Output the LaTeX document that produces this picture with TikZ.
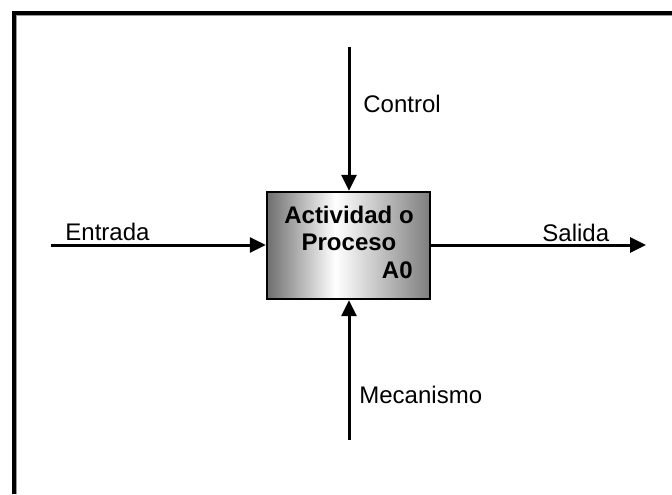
\documentclass[tikz,border=0pt]{standalone}
\usepackage{fontspec}
\setmainfont{Liberation Sans}
\usetikzlibrary{arrows.meta}
\definecolor{shadeL}{HTML}{6E6E6E}
\definecolor{shadeR}{HTML}{7E7E7E}
\definecolor{rimgray}{HTML}{9A9A9A}
\pgfdeclarehorizontalshading{boxshade}{100bp}{color(0bp)=(shadeL); color(25bp)=(shadeL); color(46bp)=(white); color(75bp)=(shadeR); color(100bp)=(shadeR)}
\tikzset{
  flow/.style={line width=1.5pt, -{Triangle[length=8pt,width=7.5pt]}},
  lbl/.style={font=\fontsize{12pt}{13pt}\selectfont, inner sep=0pt},
  activity/.style={draw=black, line width=1.2pt, shading=boxshade, inner sep=0pt,
    minimum width=81.5pt, minimum height=53.5pt}
}
\begin{document}
\begin{tikzpicture}[x=0.5pt,y=-0.5pt]
\useasboundingbox (0,0) rectangle (672,494);
% outer frame (top and left edges)
\draw[line width=2pt] (14,494) -- (14,13) -- (672,13);
\draw[rimgray, line width=0.5pt] (16.5,494) -- (16.5,15.5) -- (672,15.5);
% activity box
\node[activity] (act) at (348.5,245.5) {};
\node[font=\bfseries\fontsize{12pt}{13.5pt}\selectfont, align=center, inner sep=0pt] (title) at (349,228.5) {Actividad o\\Proceso};
\node[font=\bfseries\fontsize{12pt}{13.5pt}\selectfont, anchor=east, inner sep=0pt] (code) at (413,270) {A0};
% connectors
\coordinate (cin) at (349,47);
\coordinate (min) at (349,440);
\coordinate (ein) at (51,245);
\coordinate (sout) at (646,245);
\draw[flow] (cin) -- (act.north -| cin);
\draw[flow] (min) -- (act.south -| min);
\draw[flow] (ein) -- (act.west |- ein);
\draw[flow] (act.east |- sout) -- (sout);
% labels
\node[lbl, anchor=west] (lc) at (363,104) {Control};
\node[lbl, anchor=west] (lm) at (359,395) {Mecanismo};
\node[lbl, anchor=west] (le) at (65,232) {Entrada};
\node[lbl, anchor=west] (ls) at (542,233) {Salida};
\end{tikzpicture}
\end{document}
